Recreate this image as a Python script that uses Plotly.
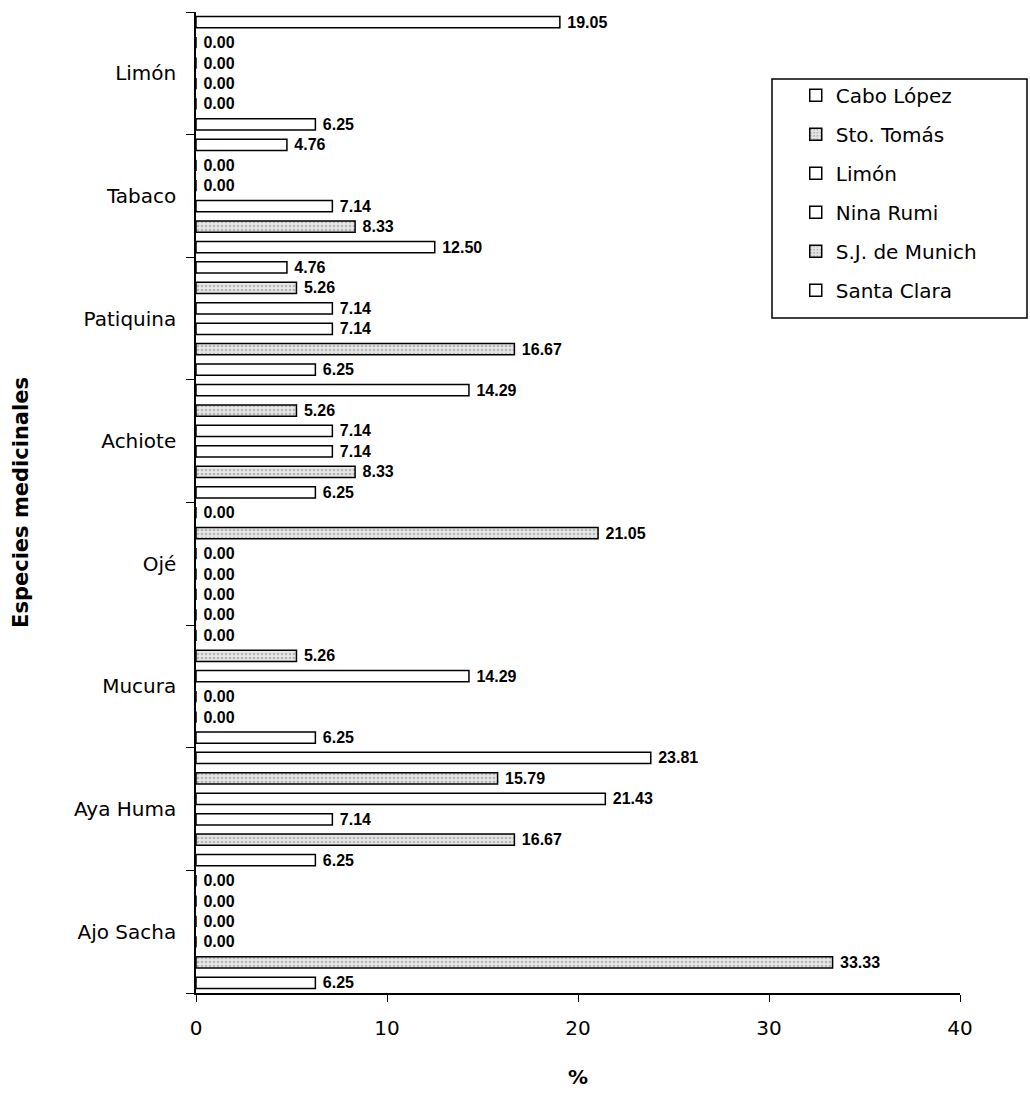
import plotly.graph_objects as go

categories = ["Ajo Sacha", "Aya Huma", "Mucura", "Ojé", "Achiote", "Patiquina", "Tabaco", "Limón"]

santa_clara = [6.25, 6.25, 6.25, 0.00, 6.25, 6.25, 12.50, 6.25]
sj_munich   = [33.33, 16.67, 0.00, 0.00, 8.33, 16.67, 8.33, 0.00]
nina_rumi   = [0.00, 7.14, 0.00, 0.00, 7.14, 7.14, 7.14, 0.00]
limon       = [0.00, 21.43, 14.29, 0.00, 7.14, 7.14, 0.00, 0.00]
sto_tomas   = [0.00, 15.79, 5.26, 21.05, 5.26, 5.26, 0.00, 0.00]
cabo_lopez  = [0.00, 23.81, 0.00, 0.00, 14.29, 4.76, 4.76, 19.05]

series_names = ["Santa Clara", "S.J. de Munich", "Nina Rumi", "Limón", "Sto. Tomás", "Cabo López"]
series_values = [santa_clara, sj_munich, nina_rumi, limon, sto_tomas, cabo_lopez]
patterned = {"S.J. de Munich", "Sto. Tomás"}

FONT = "DejaVu Sans, Verdana, sans-serif"
LABEL_FONT = "Liberation Sans, Arial, sans-serif"

fig = go.Figure()
n = len(series_names)
for i, (name, vals) in enumerate(zip(series_names, series_values)):
    if name in patterned:
        marker = dict(color="white", line=dict(color="black", width=1.5),
                      pattern=dict(shape=".", fgcolor="#888888", bgcolor="#e6e6e6",
                                   size=4, solidity=0.35))
    else:
        marker = dict(color="white", line=dict(color="black", width=1.5))
    fig.add_trace(go.Bar(
        y=categories, x=vals, name=name, orientation="h",
        marker=marker, legendgroup=name, legendrank=n - i,
        text=vals, texttemplate="<b> %{x:.2f}</b>", textposition="outside",
        textfont=dict(family=LABEL_FONT, size=16, color="black"),
        constraintext="none", cliponaxis=False,
    ))

fig.update_layout(
    width=1030, height=1102,
    margin=dict(l=196, r=70, t=12, b=109),
    paper_bgcolor="white", plot_bgcolor="white",
    barmode="group", bargap=0.0, bargroupgap=0.45,
    font=dict(family=FONT, color="black"),
    showlegend=True,
    legend=dict(
        x=0.785, y=0.935, xanchor="left", yanchor="top",
        traceorder="grouped", tracegroupgap=10,
        font=dict(family=FONT, size=20, color="black"),
        bgcolor="rgba(0,0,0,0)", borderwidth=0,
        itemwidth=30,
    ),
    xaxis=dict(
        range=[0, 40], tickvals=[0, 10, 20, 30, 40],
        showline=True, linecolor="black", linewidth=1.5,
        ticks="outside", ticklen=7, tickcolor="black",
        tickfont=dict(family=FONT, size=20, color="black"),
        ticklabelstandoff=9,
        showgrid=False, zeroline=False,
        title=dict(text="<b>%</b>", font=dict(family=FONT, size=20, color="black"), standoff=31),
    ),
    yaxis=dict(
        type="category", categoryorder="array", categoryarray=categories,
        showline=True, linecolor="black", linewidth=1.5,
        ticks="outside", ticklen=8, tickcolor="black", tickson="boundaries",
        tickfont=dict(family=FONT, size=20, color="black"),
        ticklabelstandoff=14,
        showgrid=False, zeroline=False,
        title=dict(text="<b>Especies medicinales</b>", font=dict(family=FONT, size=21, color="black"), standoff=40),
    ),
    shapes=[dict(type="rect", xref="paper", yref="paper",
                 x0=(772 - 196) / 764, x1=(1027 - 196) / 764,
                 y0=(993 - 318) / 981, y1=(993 - 79) / 981,
                 line=dict(color="black", width=1.5), fillcolor="rgba(0,0,0,0)")],
)

fig.write_html("out.html")
